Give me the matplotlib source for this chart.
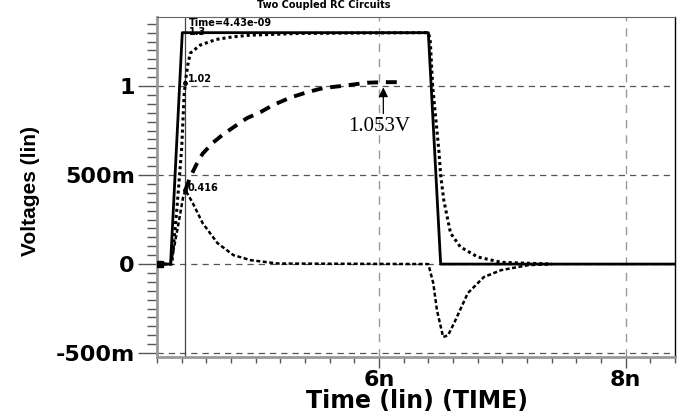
import numpy as np
import matplotlib
matplotlib.use("Agg")
import matplotlib.pyplot as plt
from matplotlib.ticker import MultipleLocator, FixedLocator

# --- data (time in ns, volts) ---
t_in = [4.20, 4.31, 4.405, 6.40, 6.50, 8.40]
v_in = [0.0, 0.0, 1.30, 1.30, 0.0, 0.0]

t_fast = [4.20, 4.32, 4.36, 4.40, 4.42, 4.435, 4.45, 4.47, 4.55, 4.68, 4.82, 4.96, 5.37,
          6.40, 6.415, 6.435, 6.485, 6.50, 6.525, 6.58, 6.66, 6.80, 6.99, 7.40]
v_fast = [0.0, 0.0, 0.30, 0.65, 0.95, 1.05, 1.12, 1.185, 1.23, 1.262, 1.277, 1.286, 1.296,
          1.30, 1.26, 1.00, 0.64, 0.50, 0.36, 0.174, 0.096, 0.04, 0.01, 0.0]

t_cpl = [4.20, 4.31, 4.34, 4.38, 4.41, 4.43, 4.49, 4.57, 4.69, 4.82, 4.96, 5.18,
         6.40, 6.44, 6.47, 6.52, 6.56, 6.61, 6.72, 6.85, 6.99, 7.21, 7.40]
v_cpl = [0.0, 0.0, 0.10, 0.25, 0.37, 0.416, 0.343, 0.23, 0.118, 0.05, 0.022, 0.003,
         0.0, -0.107, -0.26, -0.41, -0.40, -0.33, -0.163, -0.073, -0.034, -0.006, 0.0]

t_slow = [4.43, 4.47, 4.52, 4.57, 4.65, 4.73, 4.81, 4.93, 5.04, 5.14, 5.28, 5.42,
          5.55, 5.69, 5.91, 6.04, 6.17]
v_slow = [0.416, 0.49, 0.56, 0.62, 0.68, 0.725, 0.764, 0.82, 0.854, 0.893, 0.935, 0.966,
          0.989, 1.0, 1.019, 1.022, 1.022]

cursor_t = 4.43
y_ticks = [-0.5, 0.0, 0.5, 1.0]
y_labels = ["-500m", "0", "500m", "1"]
x_ticks = [6.0, 8.0]
x_labels = ["6n", "8n"]

fig = plt.figure(figsize=(6.97, 4.17), dpi=100)
ax = fig.add_axes([157/697, 1 - 357/417, 518/697, 340/417])

ax.set_xlim(4.2, 8.4)
ax.set_ylim(-0.522, 1.388)

# grid
for y in y_ticks:
    ax.axhline(y, color="#555555", lw=0.9, ls=(0, (5, 4)), zorder=1)
for x in x_ticks:
    ax.axvline(x, color="#999999", lw=1.0, ls=(0, (6, 5)), zorder=1)

# cursor
ax.axvline(cursor_t, color="#444444", lw=0.9, zorder=2)

# curves
ax.plot(t_fast, v_fast, color="black", lw=2.2, ls=(0, (1, 1)), zorder=3)
ax.plot(t_cpl, v_cpl, color="black", lw=1.8, ls=(0, (1.6, 1.0)), zorder=3)
ax.plot(t_slow, v_slow, color="black", lw=2.8, ls=(0, (2.8, 2.0)), zorder=3)
ax.plot(t_in, v_in, color="black", lw=2.0, zorder=4)
ax.plot([4.225], [0.0], marker="s", color="black", ms=4.5, zorder=5)
ax.plot([cursor_t, cursor_t], [1.02, 0.416], ls="none", marker="o", ms=2.5,
        color="black", zorder=5)

# cursor labels
lab = dict(fontsize=7, fontweight="bold", color="black", family="DejaVu Sans")
ax.text(4.455, 1.352, "Time=4.43e-09", va="center", ha="left", **lab)
ax.text(4.455, 1.305, "1.3", va="center", ha="left", **lab)
ax.text(4.45, 1.04, "1.02", va="center", ha="left", **lab)
ax.text(4.445, 0.43, "0.416", va="center", ha="left", **lab)

# hand annotation
ax.annotate("", xy=(6.035, 1.008), xytext=(6.035, 0.83),
            arrowprops=dict(arrowstyle="-|>", color="black", lw=0.9,
                            mutation_scale=14))
ax.text(6.0, 0.775, "1.053V", ha="center", va="center", fontsize=15,
        family=["Liberation Serif", "DejaVu Serif"])

# axes look
for side in ["left", "bottom"]:
    ax.spines[side].set_color("#999999")
    ax.spines[side].set_linewidth(2.0)
ax.spines["top"].set_color("#666666")
ax.spines["top"].set_linewidth(0.8)
ax.spines["right"].set_color("black")
ax.spines["right"].set_linewidth(1.0)

ax.yaxis.set_major_locator(FixedLocator(y_ticks))
ax.yaxis.set_minor_locator(MultipleLocator(0.05))
ax.set_yticklabels(y_labels)
ax.xaxis.set_major_locator(FixedLocator(x_ticks))
ax.xaxis.set_minor_locator(MultipleLocator(0.2))
ax.set_xticklabels(x_labels)

ax.tick_params(axis="y", which="major", length=14, width=1.0, color="#555555", pad=2)
ax.tick_params(axis="y", which="minor", length=7, width=1.0, color="#555555")
ax.tick_params(axis="x", which="major", length=8, width=1.0, color="#555555", pad=1)
ax.tick_params(axis="x", which="minor", length=4, width=1.0, color="#555555")
for t in ax.get_xticklabels() + ax.get_yticklabels():
    t.set_fontsize(16)
    t.set_fontweight("bold")
    t.set_family("DejaVu Sans")

fig.text(417/697, 1 - 401/417, "Time (lin) (TIME)", ha="center", va="center",
         fontsize=17, fontweight="bold", family="DejaVu Sans")
fig.text(30/697, 1 - 191/417, "Voltages (lin)", ha="center", va="center",
         rotation=90, fontsize=15, fontweight="bold",
         family=["Liberation Sans", "DejaVu Sans"])
fig.text(323.5/697, 1 - 5/417, "Two Coupled RC Circuits", ha="center", va="center",
         fontsize=7, fontweight="bold", family="DejaVu Sans")

fig.savefig("out.png", dpi=100)
